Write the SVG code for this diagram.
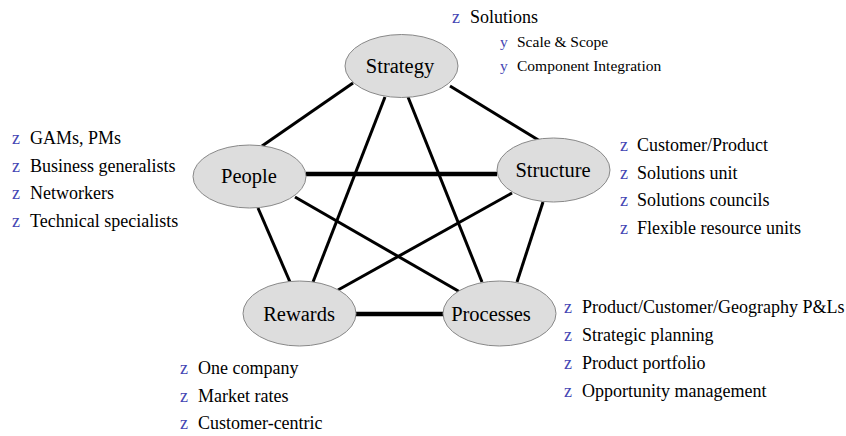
<svg xmlns="http://www.w3.org/2000/svg" width="846" height="436" viewBox="0 0 846 436">
<style>
.n{fill:#dddddd;stroke:#888888;stroke-width:1}
.lbl{font-family:"Liberation Serif","Times New Roman",serif;font-size:20.5px;fill:#000;text-anchor:middle}
.t{font-family:"Liberation Serif","Times New Roman",serif;font-size:18px;fill:#000}
.s{font-family:"Liberation Serif","Times New Roman",serif;font-size:15.5px;fill:#000}
.b{fill:#4646b4}
.e{stroke:#000;stroke-width:3;fill:none}
.h{stroke:#000;stroke-width:4.5;fill:none}
</style>
<rect width="846" height="436" fill="#fff"/>
<g id="connectors">
<line class="e" x1="353" y1="83" x2="262" y2="146"/>
<line class="e" x1="450" y1="86" x2="540" y2="141"/>
<line class="e" x1="385" y1="97" x2="313" y2="282"/>
<line class="e" x1="408" y1="97" x2="482" y2="282"/>
<line class="h" x1="306" y1="174" x2="497" y2="174"/>
<line class="e" x1="295" y1="197" x2="460" y2="292"/>
<line class="e" x1="512" y1="193" x2="338" y2="290"/>
<line class="e" x1="543" y1="202" x2="517" y2="282"/>
<line class="e" x1="258" y1="208" x2="290" y2="282"/>
<line class="h" x1="356" y1="314" x2="443" y2="314"/>
</g>
<g id="strategy">
<ellipse class="n" cx="401.5" cy="66" rx="56.5" ry="31.5"/>
<text class="lbl" x="400" y="73">Strategy</text>
</g>
<g id="people">
<ellipse class="n" cx="249.5" cy="176.5" rx="56.5" ry="31.5"/>
<text class="lbl" x="249" y="183">People</text>
</g>
<g id="structure">
<ellipse class="n" cx="553.5" cy="170" rx="56.5" ry="32"/>
<text class="lbl" x="553" y="177">Structure</text>
</g>
<g id="rewards">
<ellipse class="n" cx="299.5" cy="313.5" rx="56.5" ry="32.5"/>
<text class="lbl" x="299" y="321">Rewards</text>
</g>
<g id="processes">
<ellipse class="n" cx="499.5" cy="313.5" rx="56.5" ry="32.5"/>
<text class="lbl" x="491" y="321">Processes</text>
</g>
<g id="strategy-notes">
<text class="t b" x="452" y="23">z</text><text class="t" x="470" y="23">Solutions</text>
<text class="s b" x="500" y="47">y</text><text class="s" x="517" y="47">Scale &amp; Scope</text>
<text class="s b" x="500" y="71">y</text><text class="s" x="517" y="71">Component Integration</text>
</g>
<g id="people-notes">
<text class="t b" x="12" y="144">z</text><text class="t" x="30" y="144">GAMs, PMs</text>
<text class="t b" x="12" y="171.5">z</text><text class="t" x="30" y="171.5">Business generalists</text>
<text class="t b" x="12" y="199">z</text><text class="t" x="30" y="199">Networkers</text>
<text class="t b" x="12" y="226.5">z</text><text class="t" x="30" y="226.5">Technical specialists</text>
</g>
<g id="structure-notes">
<text class="t b" x="620" y="151">z</text><text class="t" x="637" y="151">Customer/Product</text>
<text class="t b" x="620" y="178.5">z</text><text class="t" x="637" y="178.5">Solutions unit</text>
<text class="t b" x="620" y="206">z</text><text class="t" x="637" y="206">Solutions councils</text>
<text class="t b" x="620" y="233.5">z</text><text class="t" x="637" y="233.5">Flexible resource units</text>
</g>
<g id="processes-notes">
<text class="t b" x="564" y="313">z</text><text class="t" x="582" y="313">Product/Customer/Geography P&amp;Ls</text>
<text class="t b" x="564" y="341">z</text><text class="t" x="582" y="341">Strategic planning</text>
<text class="t b" x="564" y="369">z</text><text class="t" x="582" y="369">Product portfolio</text>
<text class="t b" x="564" y="397">z</text><text class="t" x="582" y="397">Opportunity management</text>
</g>
<g id="rewards-notes">
<text class="t b" x="180" y="374">z</text><text class="t" x="198" y="374">One company</text>
<text class="t b" x="180" y="401.5">z</text><text class="t" x="198" y="401.5">Market rates</text>
<text class="t b" x="180" y="429">z</text><text class="t" x="198" y="429">Customer-centric</text>
</g>
</svg>
